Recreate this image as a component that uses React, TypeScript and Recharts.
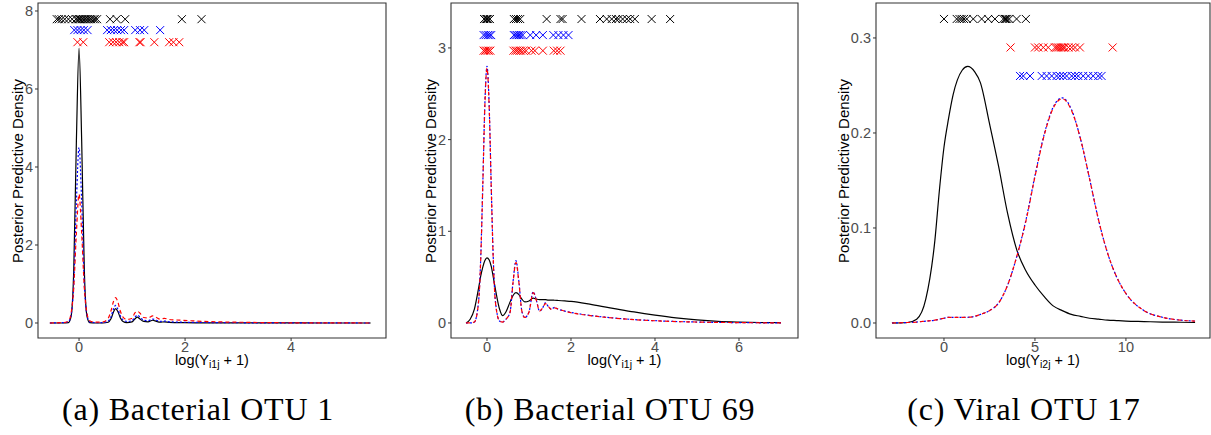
import React from "react";
import { ComposedChart, Line, Scatter, XAxis, YAxis, ReferenceArea } from "recharts";

// ---------- (a) Bacterial OTU 1 ----------
const aGrid = [-0.55, -0.3, -0.2, -0.15, -0.1, -0.05, 0, 0.05, 0.1, 0.15, 0.2, 0.3, 0.45, 0.55, 0.6, 0.65, 0.69, 0.73, 0.78, 0.83, 0.9, 1.0, 1.05, 1.1, 1.15, 1.22, 1.3, 1.39, 1.46, 1.53, 1.61, 1.7, 1.8, 1.95, 2.2, 2.6, 3.0, 3.5, 4.0, 4.5, 5.0, 5.5];
const aBlack = [0, 0, 0.01, 0.17, 1.35, 4.66, 7.05, 4.66, 1.35, 0.17, 0.01, 0, 0, 0.02, 0.1, 0.28, 0.37, 0.3, 0.13, 0.04, 0.01, 0.03, 0.1, 0.15, 0.1, 0.04, 0.03, 0.07, 0.04, 0.02, 0.03, 0.015, 0.01, 0.008, 0.005, 0.003, 0.002, 0.001, 0.001, 0, 0, 0];
const aBlue = [0, 0.01, 0.03, 0.2, 1.0, 3.1, 4.5, 3.1, 1.0, 0.2, 0.03, 0.01, 0.01, 0.05, 0.15, 0.36, 0.45, 0.36, 0.18, 0.08, 0.04, 0.06, 0.14, 0.2, 0.15, 0.07, 0.06, 0.1, 0.07, 0.04, 0.05, 0.03, 0.025, 0.02, 0.015, 0.01, 0.006, 0.004, 0.002, 0.001, 0.0005, 0];
const aRed = [0, 0.01, 0.05, 0.25, 0.9, 2.3, 3.3, 2.3, 0.9, 0.25, 0.06, 0.02, 0.03, 0.12, 0.3, 0.55, 0.65, 0.55, 0.3, 0.15, 0.09, 0.12, 0.25, 0.3, 0.25, 0.14, 0.13, 0.18, 0.14, 0.1, 0.12, 0.09, 0.08, 0.07, 0.05, 0.03, 0.02, 0.01, 0.005, 0.003, 0.001, 0];
const aCrossBlack = [-0.42, -0.38, -0.33, -0.27, -0.2, -0.13, -0.06, -0.03, 0, 0.02, 0.05, 0.08, 0.11, 0.14, 0.17, 0.2, 0.23, 0.27, 0.3, 0.34, 0.585, 0.71, 0.87, 1.94, 2.31];
const aCrossBlue = [-0.09, -0.03, 0.03, 0.09, 0.16, 0.53, 0.6, 0.66, 0.72, 0.79, 0.85, 1.06, 1.15, 1.23, 1.53];
const aCrossRed = [-0.03, 0.08, 0.57, 0.64, 0.7, 0.76, 0.82, 0.85, 1.14, 1.16, 1.42, 1.7, 1.78, 1.89];
const aRows = [7.79, 7.51, 7.2];
const aXTicks = [0, 2, 4];
const aYTicks = [0, 2, 4, 6, 8];

// ---------- (b) Bacterial OTU 69 ----------
const bGrid = [-0.5, -0.4, -0.3, -0.2, -0.15, -0.1, -0.05, 0, 0.05, 0.1, 0.15, 0.2, 0.3, 0.37, 0.45, 0.55, 0.62, 0.69, 0.76, 0.83, 0.9, 1.0, 1.1, 1.18, 1.25, 1.32, 1.39, 1.46, 1.53, 1.61, 1.7, 1.85, 2.0, 2.5, 3.0, 3.5, 4.0, 4.5, 5.0, 5.5, 6.0, 6.5, 7.0];
const bBlack = [0, 0.04, 0.15, 0.38, 0.51, 0.61, 0.68, 0.71, 0.69, 0.62, 0.5, 0.37, 0.15, 0.08, 0.12, 0.23, 0.3, 0.33, 0.31, 0.26, 0.23, 0.24, 0.27, 0.26, 0.255, 0.255, 0.255, 0.25, 0.25, 0.248, 0.245, 0.24, 0.235, 0.2, 0.16, 0.12, 0.085, 0.055, 0.033, 0.018, 0.01, 0.005, 0.003];
const bBlue = [0, 0, 0.01, 0.24, 0.7, 1.51, 2.4, 2.8, 2.4, 1.51, 0.7, 0.24, 0.02, 0.01, 0.04, 0.12, 0.45, 0.68, 0.45, 0.13, 0.06, 0.12, 0.34, 0.24, 0.13, 0.16, 0.22, 0.18, 0.15, 0.17, 0.15, 0.13, 0.115, 0.08, 0.055, 0.037, 0.025, 0.016, 0.01, 0.006, 0.004, 0.002, 0.001];
const bRed = [0, 0, 0.01, 0.23, 0.68, 1.5, 2.38, 2.78, 2.38, 1.5, 0.68, 0.23, 0.02, 0.01, 0.04, 0.12, 0.44, 0.66, 0.44, 0.13, 0.06, 0.12, 0.33, 0.24, 0.13, 0.16, 0.21, 0.18, 0.15, 0.165, 0.15, 0.13, 0.112, 0.078, 0.054, 0.036, 0.024, 0.015, 0.01, 0.006, 0.004, 0.002, 0.001];
const bCrossBlack = [-0.07, -0.03, 0, 0.03, 0.07, 0.64, 0.69, 0.74, 0.79, 1.42, 1.75, 1.8, 2.25, 2.69, 2.85, 2.97, 3.07, 3.13, 3.23, 3.33, 3.41, 3.52, 3.92, 4.36];
const bCrossBlue = [-0.08, -0.03, 0.02, 0.06, 0.1, 0.64, 0.68, 0.72, 0.76, 0.8, 0.85, 1.03, 1.17, 1.33, 1.58, 1.7, 1.82, 1.94];
const bCrossRed = [-0.08, -0.04, 0, 0.04, 0.08, 0.63, 0.68, 0.72, 0.77, 0.81, 0.87, 0.93, 1.06, 1.14, 1.33, 1.59, 1.67, 1.75];
const bRows = [3.315, 3.14, 2.97];
const bXTicks = [0, 2, 4, 6];
const bYTicks = [0, 1, 2, 3];

// ---------- (c) Viral OTU 17 ----------
const cGrid = [-2.86, -2, -1.5, -1, -0.5, -0.25, 0, 0.25, 0.5, 1, 1.3, 1.7, 2, 2.5, 3, 3.5, 4, 4.5, 5, 5.5, 6, 6.5, 7, 7.5, 8, 8.5, 9, 9.5, 10, 11, 12, 13, 13.8];
const cBlack = [0, 0.0005, 0.004, 0.025, 0.087, 0.14, 0.185, 0.215, 0.24, 0.266, 0.27, 0.264, 0.253, 0.21, 0.165, 0.115, 0.077, 0.055, 0.04, 0.028, 0.018, 0.013, 0.009, 0.007, 0.005, 0.004, 0.003, 0.0025, 0.002, 0.0015, 0.001, 0.0008, 0.0005];
const cBlue = [0, 0.0005, 0.001, 0.002, 0.003, 0.004, 0.005, 0.006, 0.006, 0.006, 0.006, 0.007, 0.009, 0.013, 0.021, 0.04, 0.07, 0.108, 0.155, 0.198, 0.227, 0.237, 0.225, 0.194, 0.152, 0.108, 0.073, 0.048, 0.031, 0.013, 0.006, 0.003, 0.002];
const cRed = [0, 0.0005, 0.001, 0.002, 0.003, 0.004, 0.005, 0.006, 0.006, 0.006, 0.006, 0.007, 0.009, 0.013, 0.021, 0.04, 0.07, 0.107, 0.154, 0.197, 0.226, 0.236, 0.224, 0.194, 0.152, 0.108, 0.073, 0.048, 0.031, 0.013, 0.006, 0.003, 0.002];
const cCrossBlack = [0, 0.7, 0.85, 0.97, 1.1, 1.25, 1.61, 2.07, 2.43, 2.8, 3.26, 3.35, 3.4, 3.48, 3.59, 3.99, 4.5];
const cCrossRed = [3.66, 5.0, 5.18, 5.46, 5.73, 6.1, 6.2, 6.28, 6.38, 6.47, 6.56, 6.65, 6.84, 7.02, 7.2, 7.47, 9.27];
const cCrossBlue = [4.18, 4.36, 4.73, 5.37, 5.64, 5.92, 6.19, 6.37, 6.55, 6.74, 7.02, 7.2, 7.38, 7.65, 7.93, 8.2, 8.48, 8.66];
const cRows = [0.32, 0.29, 0.26];
const cXTicks = [0, 5, 10];
const cYTicks = [0, 0.1, 0.2, 0.3];

const captions = ["(a) Bacterial OTU 1", "(b) Bacterial OTU 69", "(c) Viral OTU 17"];

const SANS = "'Liberation Sans', Arial, sans-serif";

const cross = (color: string) => (props: any) => {
  const { cx, cy } = props;
  const s = 4;
  return (
    <g stroke={color} strokeWidth={1}>
      <line x1={cx - s} y1={cy - s} x2={cx + s} y2={cy + s} />
      <line x1={cx - s} y1={cy + s} x2={cx + s} y2={cy - s} />
    </g>
  );
};

const Panel = (p: any) => {
  const toLine = (ys: number[]) => p.grid.map((x: number, i: number) => ({ x, y: ys[i] }));
  const toRow = (xs: number[], y: number) => xs.map((x) => ({ x, y }));
  const tick = { fill: "#4d4d4d", fontSize: 14.5, fontFamily: SANS };
  return (
    <div style={{ position: "absolute", left: p.left, top: 0, width: p.width, height: 435 }}>
      <ComposedChart
        width={p.width}
        height={368}
        margin={{ top: 3, right: p.marginRight, bottom: 0, left: p.marginLeft }}
        style={{ fontFamily: SANS }}
      >
        <XAxis
          type="number"
          dataKey="x"
          domain={p.xDomain}
          ticks={p.xTicks}
          allowDataOverflow
          interval={0}
          height={30}
          axisLine={false}
          tickSize={3}
          tickMargin={1}
          tickLine={{ stroke: "#333" }}
          tick={tick}
        />
        <YAxis
          type="number"
          dataKey="y"
          domain={p.yDomain}
          ticks={p.yTicks}
          allowDataOverflow
          interval={0}
          width={p.yAxisWidth}
          axisLine={false}
          tickSize={3}
          tickMargin={2}
          tickLine={{ stroke: "#333" }}
          tick={tick}
          tickFormatter={p.yFmt}
        />
        <ReferenceArea
          x1={p.xDomain[0]}
          x2={p.xDomain[1]}
          y1={p.yDomain[0]}
          y2={p.yDomain[1]}
          fill="none"
          fillOpacity={0}
          stroke="#333"
          strokeWidth={1.1}
        />
        <Line data={toLine(p.black)} dataKey="y" type="monotone" stroke="#000" strokeWidth={1.2} dot={false} isAnimationActive={false} />
        <Line data={toLine(p.blue)} dataKey="y" type="monotone" stroke="#0000ff" strokeWidth={1.2} strokeDasharray="2 2" dot={false} isAnimationActive={false} />
        <Line data={toLine(p.red)} dataKey="y" type="monotone" stroke="#ff0000" strokeWidth={1.2} strokeDasharray="4 3" dot={false} isAnimationActive={false} />
        <Scatter data={toRow(p.crossBlack, p.rows[0])} shape={cross("#000")} isAnimationActive={false} />
        <Scatter data={toRow(p.crossBlue, p.rows[p.blueRow])} shape={cross("#0000ff")} isAnimationActive={false} />
        <Scatter data={toRow(p.crossRed, p.rows[p.redRow])} shape={cross("#ff0000")} isAnimationActive={false} />
      </ComposedChart>
      <div
        style={{
          position: "absolute",
          left: p.yLabelX,
          top: 171,
          transform: "translate(-50%, -50%) rotate(-90deg)",
          whiteSpace: "nowrap",
          fontFamily: SANS,
          fontSize: 15,
          lineHeight: 1,
          color: "#000",
        }}
      >
        Posterior Predictive Density
      </div>
      <div
        style={{
          position: "absolute",
          left: p.xLabelX,
          top: 353,
          transform: "translateX(-50%)",
          whiteSpace: "nowrap",
          fontFamily: SANS,
          fontSize: 14.5,
          lineHeight: 1,
          color: "#000",
        }}
      >
        log(Y
        <span style={{ fontSize: 10.5, position: "relative", top: 3 }}>{p.sub}</span>
        {" + 1)"}
      </div>
      <div
        style={{
          position: "absolute",
          left: p.captionX,
          top: 393,
          transform: "translateX(-50%)",
          whiteSpace: "nowrap",
          fontFamily: "'Liberation Serif', 'Times New Roman', serif",
          fontSize: 32,
          letterSpacing: 0.8,
          lineHeight: 1,
          color: "#000",
        }}
      >
        {p.caption}
      </div>
    </div>
  );
};

export default function App() {
  return (
    <div style={{ position: "absolute", left: 0, top: 0, width: 1211, height: 435, background: "#fff", overflow: "hidden" }}>
      <Panel
        left={0}
        width={400}
        marginLeft={8}
        yAxisWidth={30}
        marginRight={14}
        xDomain={[-0.774, 5.79]}
        yDomain={[-0.385, 8.205]}
        xTicks={aXTicks}
        yTicks={aYTicks}
        yFmt={(v: number) => String(v)}
        grid={aGrid}
        black={aBlack}
        blue={aBlue}
        red={aRed}
        crossBlack={aCrossBlack}
        crossBlue={aCrossBlue}
        crossRed={aCrossRed}
        rows={aRows}
        blueRow={1}
        redRow={2}
        sub="i1j"
        caption={captions[0]}
        yLabelX={17}
        xLabelX={212}
        captionX={198}
      />
      <Panel
        left={400}
        width={400}
        marginLeft={11}
        yAxisWidth={40}
        marginRight={2}
        xDomain={[-0.857, 7.405]}
        yDomain={[-0.164, 3.49]}
        xTicks={bXTicks}
        yTicks={bYTicks}
        yFmt={(v: number) => String(v)}
        grid={bGrid}
        black={bBlack}
        blue={bBlue}
        red={bRed}
        crossBlack={bCrossBlack}
        crossBlue={bCrossBlue}
        crossRed={bCrossRed}
        rows={bRows}
        blueRow={1}
        redRow={2}
        sub="i1j"
        caption={captions[1]}
        yLabelX={30}
        xLabelX={224.5}
        captionX={210}
      />
      <Panel
        left={800}
        width={411}
        marginLeft={26}
        yAxisWidth={50}
        marginRight={1}
        xDomain={[-3.736, 14.62]}
        yDomain={[-0.0158, 0.3368]}
        xTicks={cXTicks}
        yTicks={cYTicks}
        yFmt={(v: number) => v.toFixed(1)}
        grid={cGrid}
        black={cBlack}
        blue={cBlue}
        red={cRed}
        crossBlack={cCrossBlack}
        crossBlue={cCrossBlue}
        crossRed={cCrossRed}
        rows={cRows}
        blueRow={2}
        redRow={1}
        sub="i2j"
        caption={captions[2]}
        yLabelX={43}
        xLabelX={243}
        captionX={224}
      />
    </div>
  );
}
